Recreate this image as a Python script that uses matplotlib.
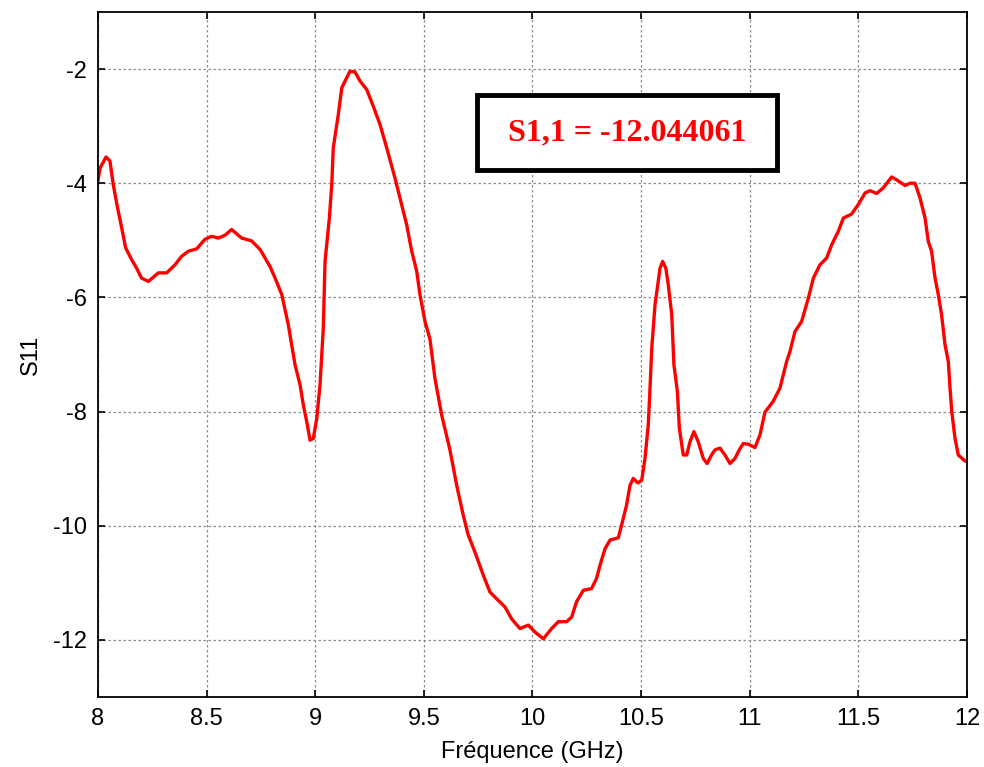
import numpy as np
import matplotlib
matplotlib.use("Agg")
import matplotlib.pyplot as plt
from matplotlib.patches import Rectangle

# frequency (GHz) and S11 (dB)
freq = [8.000, 8.010, 8.037, 8.055, 8.070, 8.090, 8.109, 8.127, 8.155, 8.178,
        8.200, 8.232, 8.278, 8.316, 8.354, 8.385, 8.416, 8.454, 8.493, 8.523,
        8.554, 8.585, 8.615, 8.661, 8.707, 8.746, 8.769, 8.792, 8.815, 8.846,
        8.876, 8.907, 8.930, 8.945, 8.961, 8.976, 8.991, 9.007, 9.022, 9.037,
        9.045, 9.065, 9.076, 9.083, 9.106, 9.122, 9.145, 9.160, 9.183, 9.206,
        9.237, 9.267, 9.298, 9.329, 9.367, 9.390, 9.421, 9.444, 9.467, 9.482,
        9.505, 9.528, 9.551, 9.582, 9.620, 9.651, 9.681, 9.704, 9.735, 9.774,
        9.804, 9.835, 9.873, 9.904, 9.942, 9.981, 10.011, 10.050, 10.088, 10.119,
        10.157, 10.180, 10.203, 10.234, 10.272, 10.295, 10.311, 10.334, 10.357, 10.395,
        10.410, 10.433, 10.449, 10.464, 10.485, 10.503, 10.518, 10.533, 10.541, 10.549,
        10.564, 10.579, 10.587, 10.599, 10.614, 10.625, 10.641, 10.651, 10.667, 10.676,
        10.694, 10.710, 10.725, 10.743, 10.763, 10.786, 10.804, 10.824, 10.840, 10.863,
        10.886, 10.909, 10.932, 10.952, 10.970, 10.993, 11.024, 11.047, 11.070, 11.108,
        11.139, 11.154, 11.170, 11.185, 11.208, 11.239, 11.270, 11.293, 11.323, 11.354,
        11.377, 11.408, 11.431, 11.469, 11.500, 11.531, 11.554, 11.584, 11.615, 11.653,
        11.676, 11.715, 11.737, 11.761, 11.784, 11.807, 11.822, 11.837, 11.853, 11.868,
        11.883, 11.899, 11.914, 11.922, 11.930, 11.945, 11.960, 11.986, 12.000]
s11 = [-3.95, -3.73, -3.54, -3.61, -4.02, -4.43, -4.78, -5.13, -5.34, -5.49,
       -5.66, -5.72, -5.57, -5.57, -5.43, -5.28, -5.19, -5.15, -4.98, -4.93,
       -4.96, -4.91, -4.81, -4.96, -5.01, -5.16, -5.31, -5.46, -5.66, -5.95,
       -6.48, -7.18, -7.53, -7.88, -8.18, -8.50, -8.47, -8.12, -7.53, -6.54,
       -5.37, -4.61, -4.02, -3.38, -2.80, -2.33, -2.15, -2.04, -2.05, -2.21,
       -2.36, -2.65, -2.97, -3.38, -3.91, -4.26, -4.73, -5.19, -5.54, -5.95,
       -6.42, -6.73, -7.42, -8.06, -8.67, -9.29, -9.81, -10.16, -10.46, -10.87,
       -11.16, -11.28, -11.42, -11.63, -11.80, -11.74, -11.86, -11.98, -11.80, -11.68,
       -11.68, -11.60, -11.33, -11.13, -11.10, -10.92, -10.69, -10.40, -10.25, -10.21,
       -9.99, -9.64, -9.29, -9.17, -9.25, -9.20, -8.82, -8.23, -7.59, -6.89,
       -6.13, -5.72, -5.49, -5.37, -5.49, -5.78, -6.30, -7.18, -7.65, -8.29,
       -8.76, -8.76, -8.53, -8.35, -8.53, -8.82, -8.91, -8.76, -8.67, -8.64,
       -8.76, -8.91, -8.82, -8.67, -8.56, -8.57, -8.63, -8.41, -8.01, -7.82,
       -7.59, -7.36, -7.12, -6.95, -6.60, -6.42, -6.01, -5.66, -5.43, -5.31,
       -5.08, -4.84, -4.61, -4.54, -4.37, -4.17, -4.13, -4.18, -4.08, -3.89,
       -3.94, -4.04, -4.00, -4.00, -4.26, -4.61, -5.02, -5.19, -5.66, -5.95,
       -6.30, -6.83, -7.12, -7.59, -8.00, -8.47, -8.76, -8.85, -8.88]

xticks = [8, 8.5, 9, 9.5, 10, 10.5, 11, 11.5, 12]
xticklabels = ['8', '8.5', '9', '9.5', '10', '10.5', '11', '11.5', '12']
yticks = [-12, -10, -8, -6, -4, -2]
annot = 'S1,1 = -12.044061'

plt.rcParams['font.family'] = ['Liberation Sans', 'DejaVu Sans']
plt.rcParams['axes.unicode_minus'] = False

fig = plt.figure(figsize=(9.84, 7.67), dpi=100)
ax = fig.add_axes([0.0996, 0.0912, 0.8831, 0.8932])

ax.plot(freq, s11, color='#ff0000', lw=2.4, solid_joinstyle='round')

ax.set_xlim(8, 12)
ax.set_ylim(-13, -1)
ax.set_xticks(xticks)
ax.set_xticklabels(xticklabels)
ax.set_yticks(yticks)
ax.grid(True, color='#8c8c8c', linestyle=(0, (2, 2)), lw=0.9)
ax.tick_params(direction='in', length=5, width=1.2, top=True, right=True,
               labelsize=17, pad=8)
for sp in ax.spines.values():
    sp.set_linewidth(1.3)

ax.set_xlabel('Fréquence (GHz)', fontsize=17, labelpad=8)
ax.set_ylabel('S11', fontsize=17, labelpad=8)

# annotation frame (axes fraction) + text
ax.add_patch(Rectangle((0.436, 0.769), 0.345, 0.11, transform=ax.transAxes,
                       fc='white', ec='black', lw=3.5, zorder=5))
ax.text(0.6085, 0.824, annot, transform=ax.transAxes, color='#ff0000',
        fontsize=23, fontweight='bold', family='Liberation Serif',
        ha='center', va='center', zorder=6)

fig.savefig('out.png', dpi=100)
